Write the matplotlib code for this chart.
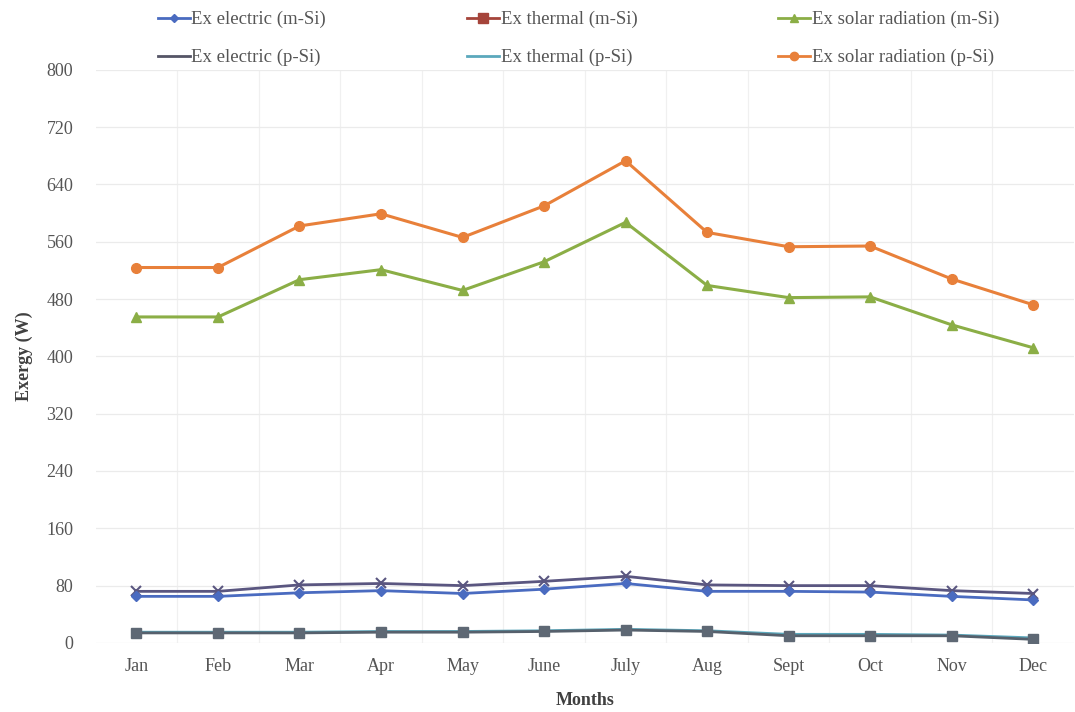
import matplotlib.pyplot as plt
from matplotlib.lines import Line2D

# Monthly exergy values (W) for the two PV/T module types
months = ['Jan', 'Feb', 'Mar', 'Apr', 'May', 'June', 'July', 'Aug', 'Sept', 'Oct', 'Nov', 'Dec']

ex_elec_m = [65, 65, 70, 73, 69, 75, 83, 72, 72, 71, 65, 60]
ex_therm_m = [14, 14, 14, 15, 15, 16, 18, 16, 10, 10, 10, 5]
ex_solar_m = [455, 455, 507, 521, 492, 532, 587, 499, 482, 483, 444, 412]
ex_elec_p = [72, 72, 81, 83, 80, 86, 93, 81, 80, 80, 73, 69]
ex_therm_p = [15, 15, 15, 16, 16, 17, 19, 17, 12, 12, 11, 7]
ex_solar_p = [524, 524, 582, 599, 566, 610, 673, 573, 553, 554, 508, 472]

yticks = list(range(0, 801, 80))

plt.rcParams['font.family'] = ['Liberation Serif', 'DejaVu Serif']

fig = plt.figure(figsize=(10.75, 7.12), dpi=100)
ax = fig.add_axes([0.089, 0.097, 0.91, 0.805])

x = list(range(len(months)))

# draw order: solar lines, then electric, then thermal on the bottom
ax.plot(x, ex_solar_p, color='#E8803A', lw=2.2, marker='o', ms=7, zorder=3)
ax.plot(x, ex_solar_m, color='#8BAE46', lw=2.2, marker='^', ms=7, zorder=3)
ax.plot(x, ex_elec_p, color='#5A5680', lw=2.0, marker='x', ms=7, mew=1.5, zorder=3)
ax.plot(x, ex_elec_m, color='#4A6BC0', lw=2.0, marker='D', ms=5, zorder=4)
ax.plot(x, ex_therm_p, color='#5BA8BC', lw=2.0, zorder=3)
ax.plot(x, ex_therm_m, color='#56606C', lw=2.0, marker='s', ms=7,
        mfc='#5E6874', mec='#5E6874', zorder=4)

ax.set_xlim(-0.5, len(months) - 0.5)
ax.set_ylim(0, 800)
ax.set_xticks(x)
ax.set_xticklabels(months)
ax.set_yticks(yticks)

# faint grid, vertical lines between categories
ax.set_xticks([i + 0.5 for i in x[:-1]], minor=True)
ax.grid(axis='y', color='#ebebeb', lw=0.9)
ax.grid(axis='x', which='minor', color='#f0f0f0', lw=0.9)
ax.set_axisbelow(True)
for s in ax.spines.values():
    s.set_visible(False)
ax.tick_params(which='both', length=0, colors='#555555', labelsize=13)
ax.tick_params(axis='x', pad=11)
ax.tick_params(axis='y', pad=16)

ax.set_ylabel('Exergy (W)', fontsize=13, fontweight='bold', color='#404040', labelpad=10)
ax.set_xlabel('Months', fontsize=13, fontweight='bold', color='#404040', labelpad=12)

# legend: column-major, m-Si on top row, p-Si on bottom row
handles = [
    Line2D([], [], color='#4A6BC0', lw=2, marker='D', ms=4),
    Line2D([], [], color='#555566', lw=2),
    Line2D([], [], color='#A5443A', lw=2, marker='s', ms=7),
    Line2D([], [], color='#5BA8BC', lw=2),
    Line2D([], [], color='#8BAE46', lw=2, marker='^', ms=6),
    Line2D([], [], color='#E8803A', lw=2, marker='o', ms=6),
]
labels = ['Ex electric (m-Si)', 'Ex electric (p-Si)',
          'Ex thermal (m-Si)', 'Ex thermal (p-Si)',
          'Ex solar radiation (m-Si)', 'Ex solar radiation (p-Si)']
leg = fig.legend(handles, labels, ncol=3, loc='upper left', bbox_to_anchor=(0.131, 1.008),
                 frameon=False, fontsize=13.5, handlelength=1.7, handletextpad=0.1,
                 columnspacing=7.5, labelspacing=1.1)
for t in leg.get_texts():
    t.set_color('#555555')

fig.savefig('out.png', dpi=100)
